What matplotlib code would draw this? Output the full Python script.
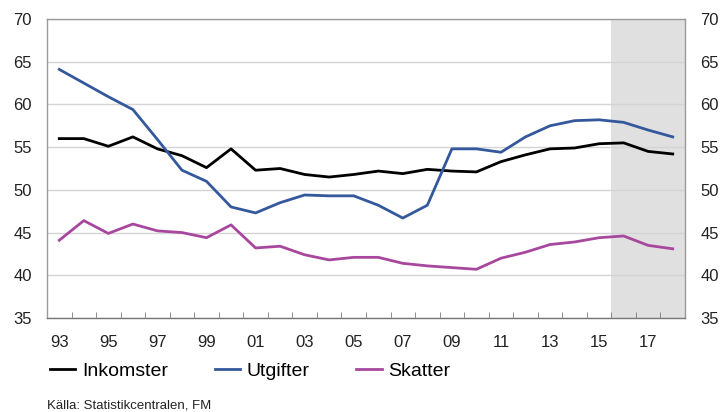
import matplotlib
matplotlib.use("Agg")
import matplotlib.pyplot as plt
import numpy as np

plt.rcParams["font.family"] = ["Liberation Sans", "DejaVu Sans"]

years = np.arange(1993, 2019)
inkomster = [56.0, 56.0, 55.1, 56.2, 54.8, 54.0, 52.6, 54.8, 52.3, 52.5, 51.8, 51.5, 51.8,
             52.2, 51.9, 52.4, 52.2, 52.1, 53.3, 54.1, 54.8, 54.9, 55.4, 55.5, 54.5, 54.2]
utgifter = [64.1, 62.5, 60.9, 59.4, 55.9, 52.3, 51.0, 48.0, 47.3, 48.5, 49.4, 49.3, 49.3,
            48.2, 46.7, 48.2, 54.8, 54.8, 54.4, 56.2, 57.5, 58.1, 58.2, 57.9, 57.0, 56.2]
skatter = [44.1, 46.4, 44.9, 46.0, 45.2, 45.0, 44.4, 45.9, 43.2, 43.4, 42.4, 41.8, 42.1,
           42.1, 41.4, 41.1, 40.9, 40.7, 42.0, 42.7, 43.6, 43.9, 44.4, 44.6, 43.5, 43.1]
forecast_from = 2016
labels = ["Inkomster", "Utgifter", "Skatter"]
colors = ["#000000", "#34589c", "#a8479e"]

fig = plt.figure(figsize=(7.24, 4.12), dpi=100)
ax = fig.add_axes([47 / 724, 1 - 318 / 412, 638 / 724, 299 / 412])

# forecast years shaded
ax.axvspan(forecast_from - 0.5, years[-1] + 0.5, color="#e0e0e0", lw=0, zorder=0)

for vals, lab, c in zip([inkomster, utgifter, skatter], labels, colors):
    ax.plot(years, vals, color=c, lw=2, label=lab, zorder=3)

ax.set_xlim(years[0] - 0.5, years[-1] + 0.5)
ax.set_ylim(35, 70)
yt = np.arange(35, 71, 5)
ax.set_yticks(yt)
ax.grid(axis="y", color="#d4d4d4", lw=1, zorder=1)
ax.set_axisbelow(True)

xt = years[::2]
ax.set_xticks(xt)
ax.set_xticklabels([f"{y % 100:02d}" for y in xt])
ax.set_xticks(np.arange(years[0] + 0.5, years[-1] + 0.5), minor=True)
ax.tick_params(axis="x", which="major", length=0, pad=12, labelsize=12, colors="#222222")
ax.tick_params(axis="x", which="minor", direction="in", length=4, color="#777777")
ax.tick_params(axis="y", length=0, pad=11, labelsize=12, colors="#222222",
               right=True, labelright=True)

for s in ax.spines.values():
    s.set_color("#9a9a9a")
    s.set_linewidth(1)
ax.spines["bottom"].set_color("#777777")

fig.legend(loc="center left", bbox_to_anchor=(42 / 724, 1 - 371 / 412), ncol=3,
           frameon=False, fontsize=14, handlelength=1.3, handletextpad=0.35,
           columnspacing=2.4, borderaxespad=0)

fig.text(47 / 724, 1 - 405 / 412, "Källa: Statistikcentralen, FM", fontsize=9.5,
         color="#222222", va="center", ha="left")

fig.savefig("out.png", dpi=100)
